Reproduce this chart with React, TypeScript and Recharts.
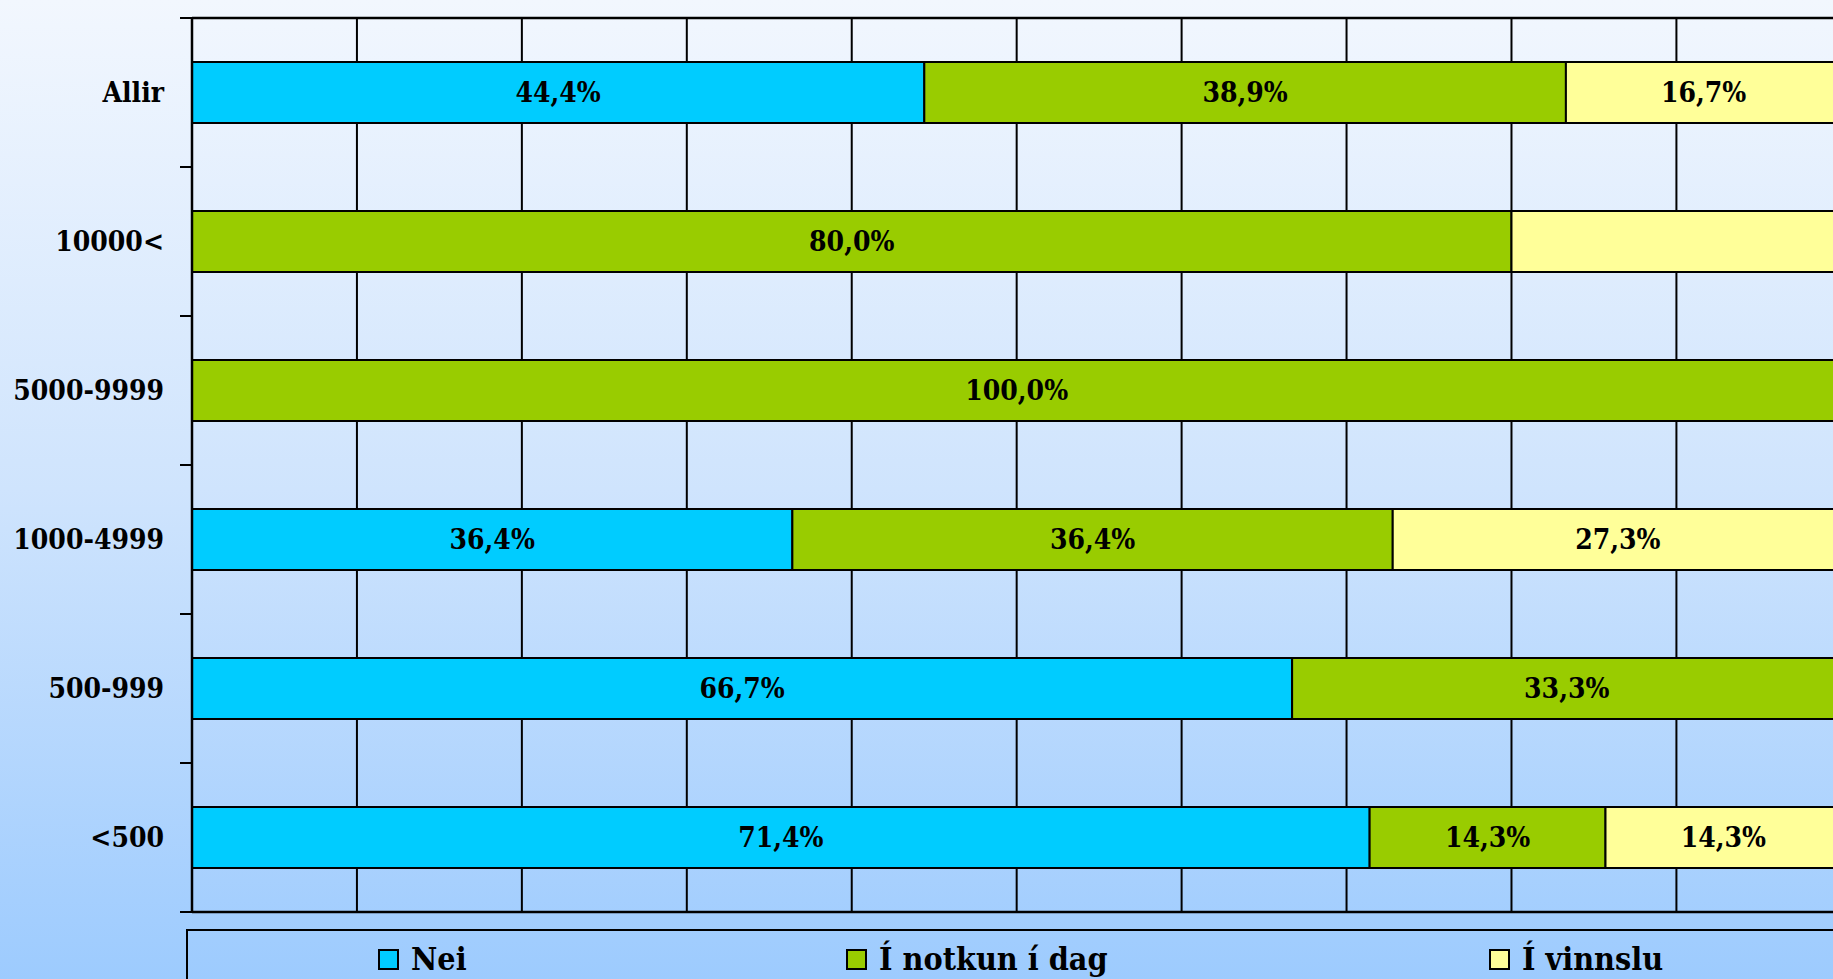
import React from 'react';
import { BarChart, Bar, XAxis, YAxis, CartesianGrid, Legend, LabelList } from 'recharts';

const categories = ['Allir', '10000<', '5000-9999', '1000-4999', '500-999', '<500'];
const nei = [44.4, 0, 0, 36.4, 66.7, 71.4];
const notkun = [38.9, 80.0, 100.0, 36.4, 33.3, 14.3];
const vinnslu = [16.7, 20.0, 0, 27.3, 0, 14.3];
// the source chart shows no label on this one segment
const hiddenLabels = ['10000<|vinnslu'];
const xTicks = [0, 10, 20, 30, 40, 50, 60, 70, 80, 90, 100];
const seriesNames = ['Nei', 'Í notkun í dag', 'Í vinnslu'];
const seriesKeys = ['nei', 'notkun', 'vinnslu'];
const colors = ['#00CCFF', '#99CC00', '#FFFF99'];

const W = 1862;
const H = 979;
const M = { top: 17, right: 19, bottom: 66, left: 0 };
const PLOT_H = H - M.top - M.bottom - 2;
const FONT = "'DejaVu Serif Condensed', 'DejaVu Serif', serif";

const fmt = (v: number) => (v > 0 ? v.toFixed(1).replace('.', ',') + '%' : '');

const rows = categories.map((name, i) => {
  const vals: Record<string, number> = { nei: nei[i], notkun: notkun[i], vinnslu: vinnslu[i] };
  const row: Record<string, string | number> = { name, ...vals };
  seriesKeys.forEach((k) => {
    row[k + 'Label'] = hiddenLabels.includes(name + '|' + k) ? '' : fmt(vals[k]);
  });
  return row;
});

function YTick(props: any) {
  const { x, y, payload, index } = props;
  const band = PLOT_H / categories.length;
  const last = index === categories.length - 1;
  return (
    <g>
      <line x1={x - 12} x2={x} y1={y - band / 2} y2={y - band / 2} stroke="#000" strokeWidth={2} />
      {last && <line x1={x - 12} x2={x} y1={y + band / 2} y2={y + band / 2} stroke="#000" strokeWidth={2} />}
      <text x={x - 28} y={y} dy="0.35em" textAnchor="end" fontFamily={FONT} fontWeight="bold" fontSize={28} fill="#000">
        {payload.value}
      </text>
    </g>
  );
}

const legendLeft = [190, 658, 1301];

function LegendBox() {
  return (
    <div style={{ position: 'relative', width: 1700, height: 100, border: '2px solid #000', boxSizing: 'border-box' }}>
      {seriesNames.map((s, i) => (
        <div key={s} style={{ position: 'absolute', left: legendLeft[i], top: 10, display: 'flex', alignItems: 'center', whiteSpace: 'nowrap' }}>
          <span style={{ display: 'inline-block', width: 17, height: 17, background: colors[i], border: '2px solid #000', marginRight: 12 }} />
          <span style={{ fontFamily: FONT, fontWeight: 'bold', fontSize: 32, lineHeight: '36px', color: '#000' }}>{s}</span>
        </div>
      ))}
    </div>
  );
}

// vertical grid at every 10%, mapped through the x axis scale when available
const gridX = (props: any) => {
  const scale = props?.xAxis?.scale;
  const off = props?.offset;
  return xTicks.map((t) => {
    if (typeof scale === 'function') return scale(t);
    if (scale && typeof scale.map === 'function') return scale.map(t);
    return off.left + (off.width * t) / 100;
  });
};

export default function App() {
  return (
    <div
      style={{
        position: 'fixed',
        left: 0,
        top: 0,
        width: 1833,
        height: 979,
        overflow: 'hidden',
        background: 'linear-gradient(to bottom, #F2F7FE 0%, #CFE4FD 50%, #9DCBFE 100%)',
      }}
    >
      <BarChart width={W} height={H} data={rows} layout="vertical" margin={M}>
        <CartesianGrid horizontal={false} vertical verticalCoordinatesGenerator={gridX} stroke="#000" strokeWidth={2} strokeOpacity={1} />
        <XAxis type="number" domain={[0, 100]} ticks={xTicks} tick={false} tickLine={false} height={1} axisLine={{ stroke: '#000', strokeWidth: 2.5 }} />
        <XAxis xAxisId="top" orientation="top" type="number" domain={[0, 100]} ticks={xTicks} tick={false} tickLine={false} height={1} axisLine={{ stroke: '#000', strokeWidth: 2.5 }} />
        <YAxis
          type="category"
          dataKey="name"
          width={192}
          tickSize={0}
          tickMargin={0}
          tickLine={false}
          axisLine={{ stroke: '#000', strokeWidth: 2.5 }}
          tick={<YTick />}
        />
        <Legend
          layout="vertical"
          align="center"
          verticalAlign="middle"
          wrapperStyle={{ left: 186, top: 929, width: 1700, height: 100 }}
          content={() => <LegendBox />}
        />
        {seriesKeys.map((k, i) => (
          <Bar key={k} dataKey={k} name={seriesNames[i]} stackId="a" fill={colors[i]} stroke="#000" strokeWidth={2} barSize={61} isAnimationActive={false}>
            <LabelList dataKey={k + 'Label'} position="center" fill="#000" fontFamily={FONT} fontWeight="bold" fontSize={28} />
          </Bar>
        ))}
      </BarChart>
    </div>
  );
}
